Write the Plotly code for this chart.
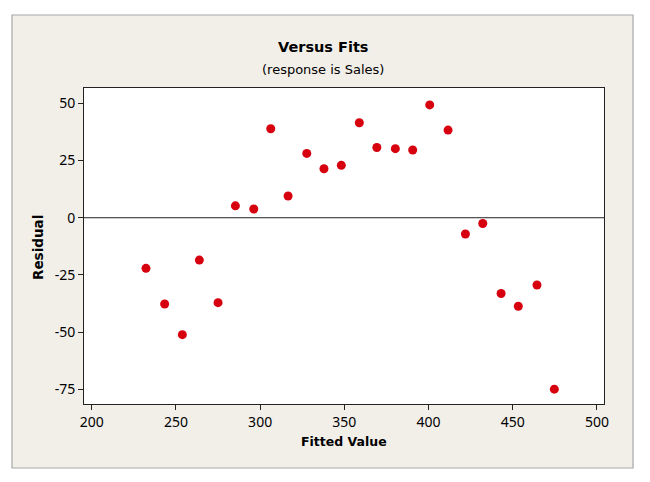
import plotly.graph_objects as go

fitted = [232.2, 243.3, 253.8, 263.9, 275.0, 285.3, 296.2, 306.3, 316.6, 327.7,
          337.9, 348.2, 358.9, 369.3, 380.3, 390.6, 400.7, 411.6, 421.9, 432.2,
          443.1, 453.3, 464.4, 474.7]
residual = [-22.1, -37.7, -51.1, -18.5, -37.1, 5.2, 3.8, 38.9, 9.5, 28.1,
            21.4, 22.9, 41.5, 30.7, 30.2, 29.6, 49.3, 38.3, -7.1, -2.5,
            -33.1, -38.7, -29.4, -74.9]
x_ticks = [200, 250, 300, 350, 400, 450, 500]
y_ticks = [-75, -50, -25, 0, 25, 50]
y_tick_labels = ["-75", "-50", "-25", "0", "25", "50"]

FONT = "DejaVu Sans"
TICKFONT = "Noto Sans"
BEIGE = "#f2efe9"

fig = go.Figure()
fig.add_trace(go.Scatter(
    x=fitted, y=residual, mode="markers",
    marker=dict(color="#d7000f", size=9, line=dict(width=0)),
    hoverinfo="x+y", showlegend=False,
))

# zero reference line
fig.add_hline(y=0, line=dict(color="#222222", width=1))

# outer frame and white plot background
fig.add_shape(type="rect", xref="paper", yref="paper",
              x0=-0.1385, x1=1.0558, y0=-0.2025, y1=1.231,
              fillcolor=BEIGE, line=dict(color="#a8a8a8", width=1.2), layer="below")
fig.add_shape(type="rect", xref="paper", yref="paper",
              x0=0, x1=1, y0=0, y1=1,
              fillcolor="white", line=dict(width=0), layer="below")

fig.add_annotation(text="<b>Versus Fits</b>", xref="paper", yref="paper",
                   x=0.4596, y=1.1297, xanchor="center", yanchor="middle",
                   showarrow=False, font=dict(family=FONT, size=14.5, color="#000"))
fig.add_annotation(text="(response is Sales)", xref="paper", yref="paper",
                   x=0.4596, y=1.060, xanchor="center", yanchor="middle",
                   showarrow=False, font=dict(family=FONT, size=13, color="#000"))
fig.add_annotation(text="<b>Residual</b>", xref="paper", yref="paper",
                   x=-0.0885, y=0.497, xanchor="center", yanchor="middle", textangle=-90,
                   showarrow=False, font=dict(family=FONT, size=13.5, color="#000"))
fig.add_annotation(text="<b>Fitted Value</b>", xref="paper", yref="paper",
                   x=0.5, y=-0.119, xanchor="center", yanchor="middle",
                   showarrow=False, font=dict(family=FONT, size=12.5, color="#000"))

fig.update_layout(
    width=650, height=482,
    margin=dict(l=76, r=54, t=80, b=86),
    paper_bgcolor="white",
    plot_bgcolor="white",
    font=dict(family=FONT, size=13, color="#000"),
    xaxis=dict(range=[195.4, 504.2], tickvals=x_ticks, ticks="outside", ticklen=5,
               tickcolor="#222", showgrid=False, zeroline=False, showline=True,
               linecolor="#222", linewidth=1, mirror=True,
               tickfont=dict(family=TICKFONT, size=14)),
    yaxis=dict(range=[-81.4, 56.7], tickvals=y_ticks, ticktext=y_tick_labels,
               ticks="outside", ticklen=5,
               tickcolor="#222", showgrid=False, zeroline=False, showline=True,
               linecolor="#222", linewidth=1, mirror=True,
               tickfont=dict(family=TICKFONT, size=14)),
)

fig.write_html("out.html")
